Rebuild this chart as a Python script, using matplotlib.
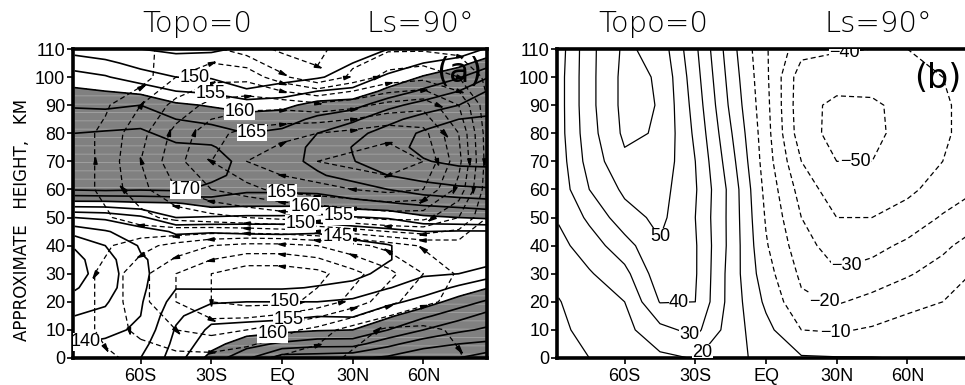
import numpy as np
import matplotlib
matplotlib.use('Agg')
import matplotlib.pyplot as plt

plt.rcParams['font.family'] = ['Liberation Sans', 'DejaVu Sans']
plt.rcParams['hatch.color'] = '#a4a4a4'
plt.rcParams['hatch.linewidth'] = 0.6

# ---- panel (a): temperature (K), one column per latitude, 0..110 km every 5 km
lat_a = [-88, -75, -60, -45, -30, -15, 0, 15, 30, 45, 60, 75, 88]
hgt_a = [0, 5, 10, 15, 20, 25, 30, 35, 40, 45, 50, 55, 60, 65, 70, 75, 80, 85, 90, 95, 100, 105, 110]
temp_cols = [
    [143, 140, 137.5, 135, 132, 129.5, 128, 128.5, 130.5, 137, 145, 158, 170.5, 173, 174, 172, 170, 167, 164.5, 161, 157, 152.5, 148],
    [143, 141, 138.5, 136, 134.5, 133, 132.5, 133, 135, 139.5, 146, 158, 171, 173, 174, 173, 170.5, 167.5, 164, 160, 155.5, 151, 147],
    [145, 143, 141, 140, 139.5, 139, 139, 139.5, 140.5, 143, 149, 159, 170.5, 173, 174, 173, 171, 168, 165, 158.5, 152, 148.5, 145],
    [152.5, 151.5, 150.5, 149, 147, 144.8, 143, 142, 143, 145.5, 155, 159.5, 171, 172.5, 173, 171, 168, 165, 161, 155, 150, 147, 144],
    [162, 158, 156, 153.5, 149.5, 144.5, 142.5, 142, 143, 145.2, 154.5, 162, 168.5, 171.5, 172, 170.5, 167.5, 163.5, 159.5, 154, 149.5, 146.5, 144.5],
    [169, 163, 157.5, 153, 150, 144.5, 142, 141.5, 142.5, 145.5, 154, 161.5, 166, 168, 168.5, 167, 165, 162, 158, 150.5, 147.5, 146, 145.5],
    [178, 166, 158.5, 153.5, 150, 144.5, 142.5, 142, 143, 145.5, 154, 161.5, 166, 167.5, 168.5, 168, 166, 163, 158.5, 152, 148.5, 148, 149],
    [178, 168, 159.5, 154.8, 150, 145.3, 143, 142, 143, 145.3, 153, 161.5, 166.5, 169.5, 171, 171, 170, 166, 162, 155, 149.5, 149, 150],
    [179, 168, 160, 154.5, 151, 146.5, 143.5, 142.5, 143.5, 147, 154.5, 163.5, 168, 171.5, 174.8, 175.2, 173.5, 169, 163, 156, 152, 150, 150],
    [181, 173.5, 165, 159, 153.5, 149.8, 146.5, 144.7, 144.7, 148.5, 155.5, 164.5, 170, 175, 177.5, 178.5, 177, 173.5, 168.5, 161.5, 156, 152, 150],
    [184, 178, 170, 164, 157, 152, 149.5, 147.5, 147.5, 150, 159, 166, 172.5, 177, 179.7, 181, 180.8, 177, 172, 166, 160.5, 155, 150],
    [185, 180, 174, 168, 162.5, 156, 150, 148, 147.5, 149.5, 160, 167, 174, 178, 181, 182.5, 182, 180, 175, 170, 164.5, 158, 150.5],
    [188, 181, 176, 172, 166, 160, 152.5, 148, 147, 149.5, 161, 168, 174.5, 178.5, 181, 182.8, 182.5, 180.5, 178.5, 175.5, 170, 163, 156],
]
temp_a = np.array(temp_cols).T

# meridional circulation (stream function), 0..110 km every 10 km
lat_psi = [-90, -75, -60, -45, -30, -15, 0, 15, 30, 45, 60, 75, 90]
hgt_psi = [0, 10, 20, 30, 40, 50, 60, 70, 80, 90, 100, 110]
psi_a = np.array([
    [0, 0.5, 1, 1.5, 1.5, 1, 0.5, 0, -1, -1.5, -1.5, -0.8, 0],
    [0, 1, 2.5, 3.5, 4, 3.5, 2.5, 1.5, 0, -1, -1, -0.5, 0],
    [0, 1, 3, 5, 6.5, 7, 7, 6, 4.5, 2.5, 1, 0.3, 0],
    [0, 1, 3, 5, 6.5, 7.5, 7.5, 7, 5.5, 4, 2, 0.5, 0],
    [0, 0.5, 1.5, 2.5, 3.5, 4, 4, 3.5, 2.5, 1.5, 0.5, 0, 0],
    [0, -0.5, -1.5, -2.5, -3, -3.5, -4, -4.5, -5, -5.5, -5.5, -3.5, 0],
    [0, -1, -3, -5, -6.5, -7.5, -8.5, -9, -9.5, -10, -9.5, -6, 0],
    [0, -1, -3.5, -6, -8, -9.5, -10.5, -11, -11.5, -12, -11, -7, 0],
    [0, -1, -3, -5.5, -7.5, -8.5, -9, -9.5, -10, -10.5, -10, -6.5, 0],
    [0, -0.5, -2, -4, -5.5, -6, -6, -5.5, -6, -7, -7.5, -5, 0],
    [0, 0.5, 0, -2, -3, -3, -1, 0.5, -1, -2.5, -3, -2, 0],
    [0, 0, -0.5, -1, -1, 0, 1, 1, 0, -0.5, -0.5, -0.3, 0],
])
psi_levels = [-11, -9.5, -8, -6.5, -5, -3.5, -2, -0.7, 0.7, 2, 3.5, 5, 6.5]

# contour labels of panel (a): level, lat, height
labels_a = [(150, -37, 100), (155, -30.5, 94), (160, -18, 88.6), (165, -12.7, 80),
            (170, -41, 59.5), (165, 0, 60), (160, 10, 54.5), (155, 24, 52),
            (150, 8, 48.4), (145, 24, 45), (150, 1.3, 19.9), (155, 3, 12.2),
            (160, -4, 7.8), (140, -83.6, 6.4)]

# ---- panel (b): zonal wind (m/s), one column per latitude, 0..110 km every 10 km
lat_b = [-88, -75, -60, -45, -30, -15, 0, 15, 30, 45, 60, 75, 88]
hgt_b = [0, 10, 20, 30, 40, 50, 60, 70, 80, 90, 100, 110]
wind_cols = [
    [5, 8, 9.5, 13, 17, 21, 24, 25, 26, 26, 26, 25],
    [10, 13, 15.5, 19, 25, 32, 40, 44, 46, 47, 47, 47],
    [14, 17, 20, 27, 36, 46, 52, 58, 62, 63, 63, 62],
    [18, 27, 40.5, 46, 49, 52.5, 54, 57, 59, 59.5, 59, 56],
    [20.5, 33, 40, 41, 41, 40, 41, 40, 38, 36, 34, 32],
    [14, 15, 16, 16, 17, 17, 17, 14, 11, 8, 6, 4],
    [6, 3, -2, -6, -9, -11, -13, -15, -16, -17, -18, -19],
    [1, -10, -18, -22, -26, -30, -34, -40, -46, -47, -46, -36],
    [0.5, -11, -21, -29, -35, -40, -46, -50, -53, -52, -46, -39],
    [0.3, -9, -17, -26, -33, -40, -46, -50, -52, -51.5, -46, -40],
    [-0.3, -6, -13, -21, -28, -36, -42, -45, -47, -47, -45, -40],
    [-0.3, -4, -10, -16, -22, -29, -36, -40, -42, -42, -40, -37],
    [-0.2, -3, -6, -9.5, -16, -24, -31, -34, -35, -35, -34, -32],
]
wind_b = np.array(wind_cols).T

labels_b = [(50, -42.9, 42.7), (40, -36.9, 19), (30, -32.7, 7.5), (20, -27.2, 2.1),
            (-10, 29.3, 8.9), (-20, 23.8, 16), (-30, 35, 30.6), (-40, 33.5, 107),
            (-50, 37.8, 65.8)]

xticks = [-60, -30, 0, 30, 60]
xticklabels = ['60S', '30S', 'EQ', '30N', '60N']
yticks = list(range(0, 111, 10))


def setup_axes(ax):
    ax.set_xlim(-88.7, 87.0)
    ax.set_ylim(0, 110)
    ax.set_xticks(xticks)
    ax.set_xticklabels(xticklabels)
    ax.set_yticks(yticks)
    ax.tick_params(direction='out', length=4, width=1.2, labelsize=13, pad=1.5)
    ax.tick_params(axis='x', pad=3)
    for sp in ax.spines.values():
        sp.set_linewidth(2.6)


def put_labels(ax, lat, hgt, field, items, fmt):
    # one invisible single-level contour per label, so the label sits on that level
    for lev, x, y in items:
        cs = ax.contour(lat, hgt, field, levels=[lev], linewidths=0, colors='k')
        txts = ax.clabel(cs, manual=[(x, y)], inline=False, fontsize=13, fmt=fmt, colors='k')
        for t in txts:
            t.set_rotation(0)
            t.set_bbox(dict(facecolor='white', edgecolor='none', pad=0.2))
            t.set_zorder(6)


def arrow_marker(angle):
    c, s = np.cos(angle), np.sin(angle)
    base = [(1.0, 0.0), (-0.7, 0.42), (-0.7, -0.42), (1.0, 0.0)]
    return [(c * x - s * y, s * x + c * y) for x, y in base]


def circulation(ax, lat, hgt, psi, levels):
    # streamlines = dashed contours of the stream function, arrows along the flow
    lat = np.asarray(lat, float)
    hgt = np.asarray(hgt, float)
    dpsi_dz, dpsi_dlat = np.gradient(psi, hgt, lat)
    u, w = dpsi_dz, -dpsi_dlat
    cs = ax.contour(lat, hgt, psi, levels=levels, colors='k', linewidths=0.9,
                    linestyles=[(0, (4, 2.5))], zorder=3)
    for segs in cs.allsegs:
        for ln in segs:
            if len(ln) < 2:
                continue
            xy = ax.transData.transform(ln)
            dist = np.concatenate([[0], np.cumsum(np.hypot(*np.diff(xy, axis=0).T))])
            for d in np.arange(40, dist[-1] - 10, 90):
                i = max(1, int(np.searchsorted(dist, d)))
                x, y = ln[i]
                if not (-88.7 < x < 87 and 0 < y < 110):
                    continue
                jx = int(np.argmin(np.abs(lat - x)))
                jz = int(np.argmin(np.abs(hgt - y)))
                t = ln[i] - ln[i - 1]
                sign = 1.0 if t[0] * u[jz, jx] + t[1] * w[jz, jx] >= 0 else -1.0
                dx, dy = (xy[i] - xy[i - 1]) * sign
                ax.plot(x, y, marker=arrow_marker(np.arctan2(dy, dx)), ms=5.5,
                        color='k', zorder=4)


fig = plt.figure(figsize=(9.65, 3.85), dpi=100)
ax_a = fig.add_axes([73 / 965, 27 / 385, 414 / 965, 309 / 385])
ax_b = fig.add_axes([557 / 965, 27 / 385, 414 / 965, 309 / 385])

# panel (a)
setup_axes(ax_a)
ax_a.contourf(lat_a, hgt_a, temp_a, levels=[160, 400], colors=['#808080'], hatches=['--'], zorder=1)
ax_a.contour(lat_a, hgt_a, temp_a, levels=np.arange(125, 190, 5), colors='k',
             linewidths=1.2, linestyles='solid', zorder=2)
circulation(ax_a, lat_psi, hgt_psi, psi_a, psi_levels)
put_labels(ax_a, lat_a, hgt_a, temp_a, labels_a, '%d')
ax_a.text(0.932, 0.925, '(a)', transform=ax_a.transAxes, fontsize=24,
          family='DejaVu Sans', ha='center', va='center', zorder=7)

# panel (b)
setup_axes(ax_b)
levels_b = np.arange(-60, 71, 10)
ax_b.contour(lat_b, hgt_b, wind_b, levels=levels_b, colors='k', linewidths=0.9,
             linestyles=[(0, (4, 2.5)) if v < 0 else 'solid' for v in levels_b])
put_labels(ax_b, lat_b, hgt_b, wind_b, labels_b, lambda v: f'{v:.0f}'.replace('-', '\u2212'))
ax_b.text(0.92, 0.905, '(b)', transform=ax_b.transAxes, fontsize=24,
          family='DejaVu Sans', ha='center', va='center', zorder=7)

# titles and axis title
for xc in (197, 653):
    fig.text(xc / 965, 1 - 24 / 385, 'Topo=0', fontsize=21, family='DejaVu Sans',
             fontweight='light', ha='center', va='center')
for xc in (420, 878):
    fig.text(xc / 965, 1 - 24 / 385, 'Ls=90\u00b0', fontsize=21, family='DejaVu Sans',
             fontweight='light', ha='center', va='center')
fig.text(22 / 965, 1 - 220 / 385, 'APPROXIMATE   HEIGHT,   KM', rotation=90, fontsize=12,
         family='DejaVu Sans', ha='center', va='center')

fig.savefig('out.png', dpi=100)
